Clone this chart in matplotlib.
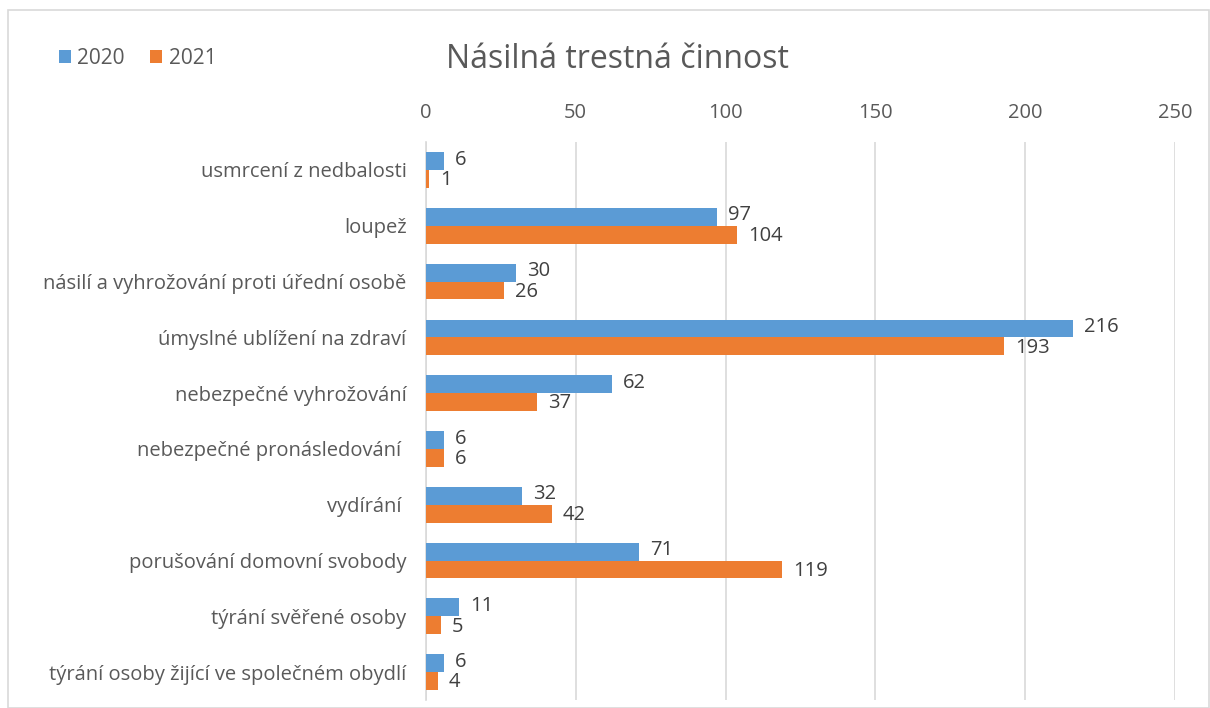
import numpy as np
import matplotlib
matplotlib.use("Agg")
from matplotlib import pyplot as plt
from matplotlib.patches import Rectangle

categories = [
    "usmrcení z nedbalosti",
    "loupež",
    "násilí a vyhrožování proti úřední osobě",
    "úmyslné ublížení na zdraví",
    "nebezpečné vyhrožování",
    "nebezpečné pronásledování ",
    "vydírání ",
    "porušování domovní svobody",
    "týrání svěřené osoby",
    "týrání osoby žijící ve společném obydlí",
]
values_2020 = [6, 97, 30, 216, 62, 6, 32, 71, 11, 6]
values_2021 = [1, 104, 26, 193, 37, 6, 42, 119, 5, 4]
xticks = [0, 50, 100, 150, 200, 250]

blue = "#5b9bd5"
orange = "#ed7d31"
txt = "#595959"

plt.rcParams['font.family'] = ['Open Sans', 'DejaVu Sans']

fig = plt.figure(figsize=(12.1, 7.08), dpi=100)
ax = fig.add_axes([0.352, 0.0113, 0.619, 0.788])

y = np.arange(len(categories))
h = 0.32
b1 = ax.barh(y - h / 2, values_2020, height=h, color=blue, label="2020", zorder=3)
b2 = ax.barh(y + h / 2, values_2021, height=h, color=orange, label="2021", zorder=3)

# 2020 labels sit a bit high, 2021 a bit low, like the original
for bars, vals, dy in ((b1, values_2020, 1), (b2, values_2021, -1)):
    for bar, v in zip(bars, vals):
        ax.annotate(str(v), (bar.get_width(), bar.get_y() + bar.get_height() / 2),
                    xytext=(8, dy), textcoords="offset points", va="center", ha="left",
                    fontsize=14.5, color="#404040")

ax.set_ylim(len(categories) - 0.5, -0.5)
ax.set_xlim(0, 250)
ax.set_xticks(xticks)
ax.xaxis.tick_top()
ax.set_yticks(y)
ax.set_yticklabels(categories)
ax.tick_params(axis="both", length=0, labelsize=14.5, colors=txt)
ax.tick_params(axis="x", pad=14)
ax.tick_params(axis="y", pad=14)
ax.grid(axis="x", color="#d9d9d9", linewidth=1.2, zorder=0)
for s in ("top", "right", "bottom"):
    ax.spines[s].set_visible(False)
ax.spines["left"].set_color("#d9d9d9")
ax.spines["left"].set_linewidth(1.2)

fig.text(0.51, 0.916, "Násilná trestná činnost", fontsize=23, color=txt, ha="center", va="center")
fig.legend(handles=[b1, b2], loc="center left", bbox_to_anchor=(0.033, 0.918), ncol=2,
           frameon=False, fontsize=15, labelcolor=txt, handlelength=0.6, handleheight=0.6,
           handletextpad=0.3, columnspacing=1.2)

fig.patches.append(Rectangle((0.007, 0.0), 0.992, 0.986, transform=fig.transFigure,
                             fill=False, edgecolor="#d9d9d9", linewidth=1.2))

fig.savefig("out.png", dpi=100)
